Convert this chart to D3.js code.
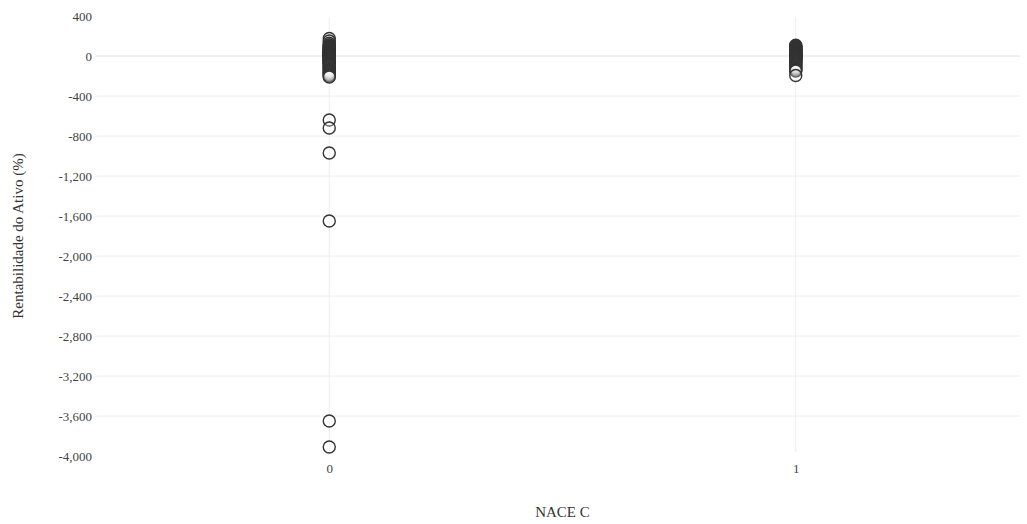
<!DOCTYPE html>
<html>
<head>
<meta charset="utf-8">
<script src="https://cdn.jsdelivr.net/npm/d3@7"></script>
<style>
  html, body { margin: 0; padding: 0; background: #fff; }
  svg { display: block; font-family: "Liberation Serif", "DejaVu Serif", serif; }
</style>
</head>
<body>
<svg id="chart" width="1027" height="524"></svg>
<script>
// NACE C group (0 / 1) and return on assets (%) of each firm
const categories = [0, 1];
const group0 = [
  175, 150, 128, 112, 104, 98, 92, 86, 80, 75, 70, 65, 60, 56, 52, 48, 44, 40, 36, 32,
  28, 25, 22, 19, 16, 13, 10, 7, 4, 2, 0, -2, -4, -7, -10, -13, -16, -20, -24, -28,
  -32, -36, -40, -45, -50, -55, -60, -66, -72, -78, -85, -92, -100, -108, -116, -125,
  -134, -143, -152, -160, -168, -176, -184, -192, -200, -210,
  -640, -720, -970, -1650, -3650, -3910
];
const group1 = [
  108, 100, 94, 88, 82, 77, 72, 67, 62, 58, 54, 50, 46, 42, 38, 34, 30, 27, 24, 21,
  18, 15, 12, 9, 6, 3, 0, -3, -6, -9, -12, -15, -19, -23, -27, -32, -37, -42, -48,
  -54, -60, -67, -74, -82, -90, -98, -106, -115, -124, -133, -142, -150, -195
];
const yTicks = [400, 0, -400, -800, -1200, -1600, -2000, -2400, -2800, -3200, -3600, -4000];
const xTickLabels = ["0", "1"];

const points = [
  ...group0.map(v => ({ g: 0, v })),
  ...group1.map(v => ({ g: 1, v }))
];

const svg = d3.select("#chart");
const m = { left: 96, right: 1029, top: 16, bottom: 456 };

const x = d3.scaleLinear().domain([-0.5, 1.5]).range([m.left, m.right]);
const y = d3.scaleLinear().domain([-4000, 400]).range([m.bottom, m.top]);

// thousands separator with a plain hyphen for negatives
const fmt = v => d3.format(",")(v).replace("\u2212", "-");

// horizontal grid (interior ticks only)
svg.append("g")
  .selectAll("line")
  .data(yTicks.filter(t => t !== 400 && t !== -4000))
  .join("line")
  .attr("x1", m.left).attr("x2", 1020)
  .attr("y1", d => y(d)).attr("y2", d => y(d))
  .attr("stroke", d => d === 0 ? "#e0e0e0" : "#eeeeee")
  .attr("stroke-width", 1);

// vertical grid at each category
svg.append("g")
  .selectAll("line")
  .data(categories)
  .join("line")
  .attr("x1", d => x(d)).attr("x2", d => x(d))
  .attr("y1", m.top + 1).attr("y2", 452)
  .attr("stroke", "#eeeeee")
  .attr("stroke-width", 1);

// y axis labels
const yAxis = d3.axisLeft(y).tickValues(yTicks).tickFormat(fmt).tickSize(0).tickPadding(4);
svg.append("g")
  .attr("transform", `translate(${m.left},0)`)
  .call(yAxis)
  .call(g => g.select(".domain").remove())
  .call(g => g.selectAll("text")
    .attr("fill", "#444444")
    .style("font-size", "13px")
    .style("font-family", "'Liberation Serif', serif"));

// x axis labels
const xAxis = d3.axisBottom(x).tickValues(categories)
  .tickFormat((d, i) => xTickLabels[i]).tickSize(0).tickPadding(8);
svg.append("g")
  .attr("transform", `translate(0,${m.bottom})`)
  .call(xAxis)
  .call(g => g.select(".domain").remove())
  .call(g => g.selectAll("text")
    .attr("fill", "#444444")
    .style("font-size", "13px")
    .style("font-family", "'Liberation Serif', serif"));

// markers
svg.append("g")
  .selectAll("circle")
  .data(points)
  .join("circle")
  .attr("cx", d => x(d.g))
  .attr("cy", d => y(d.v))
  .attr("r", 6)
  .attr("fill", "#ffffff")
  .attr("fill-opacity", 0.25)
  .attr("stroke", "#333333")
  .attr("stroke-width", 1.4);

// axis titles
svg.append("text")
  .attr("x", (m.left + m.right) / 2)
  .attr("y", 517)
  .attr("text-anchor", "middle")
  .attr("fill", "#333333")
  .style("font-size", "15px")
  .text("NACE C");

svg.append("text")
  .attr("transform", `translate(23,${(m.top + m.bottom) / 2}) rotate(-90)`)
  .attr("text-anchor", "middle")
  .attr("fill", "#333333")
  .style("font-size", "15px")
  .text("Rentabilidade do Ativo (%)");
</script>
</body>
</html>
